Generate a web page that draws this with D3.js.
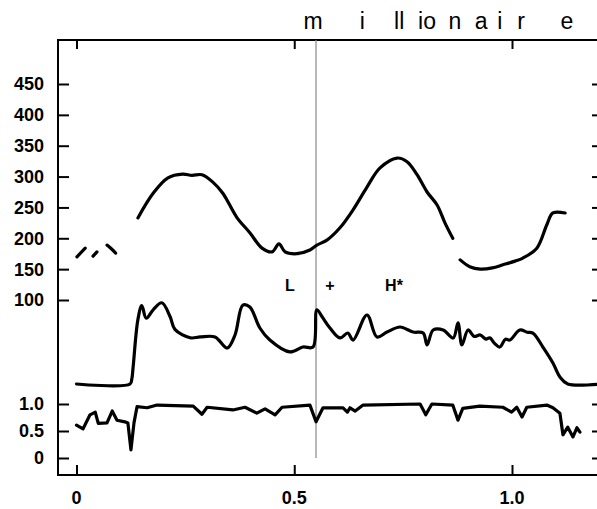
<!DOCTYPE html>
<html>
<head>
<meta charset="utf-8">
<script src="https://cdn.jsdelivr.net/npm/d3@7"></script>
<style>
  body { margin: 0; background: #fff; }
  text { font-family: "Liberation Sans", Arial, sans-serif; fill: #000; }
</style>
</head>
<body>
<div id="chart"></div>
<script>
const width = 597;
const height = 509;

// time (s), F0 (Hz) - pitch track, three voiced stretches plus early fragments
const f0Fragments = [
  [[0.001, 170], [0.020, 184]],
  [[0.038, 171], [0.047, 178]],
  [[0.070, 189], [0.080, 183], [0.090, 176]]
];
const f0Main = [
  [0.141, 233], [0.176, 273], [0.210, 298], [0.244, 304], [0.265, 302], [0.288, 303],
  [0.313, 291], [0.336, 273], [0.368, 234], [0.398, 209], [0.426, 184], [0.449, 178],
  [0.465, 191], [0.479, 178], [0.506, 175], [0.536, 181], [0.552, 189], [0.575, 197],
  [0.605, 217], [0.635, 246], [0.667, 283], [0.697, 314], [0.736, 330], [0.759, 324],
  [0.782, 303], [0.805, 275], [0.828, 254], [0.846, 225], [0.864, 200]
];
const f0End = [
  [0.881, 165], [0.903, 154], [0.927, 150], [0.955, 152], [0.979, 157], [1.007, 163],
  [1.025, 168], [1.057, 184], [1.080, 222], [1.094, 241], [1.122, 241]
];

// time (s), intensity (dB)
const intensity = [
  [0.000, 40], [0.123, 40], [0.127, 43.6], [0.130, 52], [0.141, 86], [0.150, 96],
  [0.160, 87], [0.176, 93], [0.196, 98], [0.215, 88], [0.226, 79], [0.261, 73],
  [0.284, 73.6], [0.318, 73.6], [0.346, 65.7], [0.364, 75], [0.382, 96.4], [0.398, 95],
  [0.421, 80], [0.444, 71.4], [0.490, 62.9], [0.520, 66.4], [0.543, 66.4], [0.552, 93],
  [0.564, 88], [0.582, 80], [0.605, 72.9], [0.623, 76.4], [0.635, 71.4], [0.667, 89.3],
  [0.690, 73.6], [0.713, 77.1], [0.743, 80.7], [0.773, 77.1], [0.796, 76.4], [0.805, 67.9],
  [0.819, 78.6], [0.842, 78.6], [0.865, 72.9], [0.876, 83.6], [0.885, 67.9], [0.899, 78.6],
  [0.913, 74], [0.927, 75], [0.940, 72], [0.949, 73], [0.960, 69], [0.972, 66.4],
  [0.985, 72], [0.995, 71.4], [1.018, 78.6], [1.035, 77], [1.048, 76.4], [1.071, 66.4],
  [1.094, 55], [1.110, 45], [1.128, 40], [1.205, 40]
];

// time (s), voicing probability
const voicing = [
  [0.000, 0.61], [0.015, 0.54], [0.031, 0.80], [0.043, 0.85], [0.050, 0.64], [0.070, 0.65],
  [0.082, 0.87], [0.093, 0.70], [0.111, 0.67], [0.118, 0.65], [0.125, 0.15], [0.132, 0.65],
  [0.139, 0.95], [0.162, 0.93], [0.185, 0.98], [0.268, 0.96], [0.288, 0.81], [0.300, 0.94],
  [0.359, 0.89], [0.387, 0.94], [0.414, 0.83], [0.433, 0.91], [0.456, 0.80], [0.472, 0.94],
  [0.536, 0.98], [0.550, 0.67], [0.566, 0.93], [0.612, 0.93], [0.622, 0.85], [0.628, 0.93],
  [0.640, 0.87], [0.658, 0.98], [0.789, 1.00], [0.802, 0.80], [0.816, 1.00], [0.864, 0.98],
  [0.876, 0.70], [0.887, 0.92], [0.926, 0.96], [0.979, 0.94], [0.999, 0.85], [1.011, 0.94],
  [1.023, 0.76], [1.034, 0.94], [1.080, 0.98], [1.094, 0.93], [1.110, 0.83], [1.117, 0.43],
  [1.128, 0.57], [1.140, 0.39], [1.149, 0.56], [1.156, 0.48]
];

const f0Ticks = [100, 150, 200, 250, 300, 350, 400, 450];
const voiceTicks = [0, 0.5, 1.0];
const voiceLabels = ["0", "0.5", "1.0"];
const timeTicks = [0, 0.5, 1.0];
const timeLabels = ["0", "0.5", "1.0"];

// segment letters over the word, with their time position
const letters = [
  ["m", 0.543], ["i", 0.656], ["ll", 0.741], ["io", 0.805], ["n", 0.869],
  ["a", 0.929], ["i", 0.972], ["r", 1.021], ["e", 1.126]
];
const tones = [["L", 0.490], ["+", 0.582], ["H*", 0.729]];
const markTime = 0.550;

const frameL = 58, frameR = 600, frameT = 40, frameB = 475;

const x = d3.scaleLinear().domain([0, 1]).range([76.5, 512]);
const yF0 = d3.scaleLinear().domain([100, 450]).range([300, 84]);
const yInt = d3.scaleLinear().domain([40, 100]).range([384, 300]);
const yVoice = d3.scaleLinear().domain([0, 1]).range([458, 404]);

const svg = d3.select("#chart")
  .append("svg")
  .attr("width", width)
  .attr("height", height);

// frame
svg.append("path")
   .attr("d", `M${frameL},${frameT}H${frameR}V${frameB}H${frameL}Z`)
   .attr("fill", "none")
   .attr("stroke", "#000")
   .attr("stroke-width", 2);

// ticks on all four sides, pointing into the frame
const axes = svg.append("g");
axes.append("g").attr("transform", `translate(${frameL},0)`)
    .call(d3.axisRight(yF0).tickValues(f0Ticks).tickSize(11).tickFormat(""));
axes.append("g").attr("transform", `translate(${frameL},0)`)
    .call(d3.axisRight(yVoice).tickValues(voiceTicks).tickSize(11).tickFormat(""));
axes.append("g").attr("transform", `translate(${frameR},0)`)
    .call(d3.axisLeft(yF0).tickValues(f0Ticks).tickSize(8).tickFormat(""));
axes.append("g").attr("transform", `translate(${frameR},0)`)
    .call(d3.axisLeft(yVoice).tickValues(voiceTicks).tickSize(8).tickFormat(""));
axes.append("g").attr("transform", `translate(0,${frameB})`)
    .call(d3.axisTop(x).tickValues(timeTicks).tickSize(10).tickFormat(""));
axes.append("g").attr("transform", `translate(0,${frameT})`)
    .call(d3.axisBottom(x).tickValues(timeTicks).tickSize(9).tickFormat(""));

axes.selectAll(".domain").remove();
axes.selectAll(".tick line").attr("stroke-width", 2);

// tick labels
svg.append("g").selectAll("text")
   .data(f0Ticks)
   .join("text")
   .attr("x", 44)
   .attr("y", d => yF0(d))
   .attr("dy", "0.36em")
   .attr("text-anchor", "end")
   .attr("font-size", 18)
   .attr("font-weight", "bold")
   .text(d => d);

svg.append("g").selectAll("text")
   .data(voiceTicks)
   .join("text")
   .attr("x", 44)
   .attr("y", d => yVoice(d))
   .attr("dy", "0.36em")
   .attr("text-anchor", "end")
   .attr("font-size", 18)
   .attr("font-weight", "bold")
   .text((d, i) => voiceLabels[i]);

svg.append("g").selectAll("text")
   .data(timeTicks)
   .join("text")
   .attr("x", d => x(d))
   .attr("y", 504)
   .attr("text-anchor", "middle")
   .attr("font-size", 18)
   .attr("font-weight", "bold")
   .text((d, i) => timeLabels[i]);

// word segmentation
svg.append("g").selectAll("text")
   .data(letters)
   .join("text")
   .attr("x", d => x(d[1]))
   .attr("y", 29)
   .attr("text-anchor", "middle")
   .attr("font-size", 23)
   .text(d => d[0]);

// vertical marker line
svg.append("line")
   .attr("x1", x(markTime)).attr("x2", x(markTime))
   .attr("y1", frameT).attr("y2", yVoice(0))
   .attr("stroke", "#888")
   .attr("stroke-width", 1.2);

// tone labels
svg.append("g").selectAll("text")
   .data(tones)
   .join("text")
   .attr("x", d => x(d[1]))
   .attr("y", 291)
   .attr("text-anchor", "middle")
   .attr("font-size", 16)
   .attr("font-weight", "bold")
   .text(d => d[0]);

// curves
const f0Line = d3.line().x(d => x(d[0])).y(d => yF0(d[1])).curve(d3.curveCatmullRom);
const intLine = d3.line().x(d => x(d[0])).y(d => yInt(d[1])).curve(d3.curveCatmullRom.alpha(0.5));
const voiceLine = d3.line().x(d => x(d[0])).y(d => yVoice(d[1]));

const traces = svg.append("g")
  .attr("fill", "none")
  .attr("stroke", "#000")
  .attr("stroke-width", 3.2)
  .attr("stroke-linejoin", "round")
  .attr("stroke-linecap", "round");

traces.selectAll(".f0")
  .data([...f0Fragments, f0Main, f0End])
  .join("path")
  .attr("class", "f0")
  .attr("d", f0Line);

traces.append("path").attr("d", intLine(intensity));
traces.append("path").attr("d", voiceLine(voicing));
</script>
</body>
</html>
